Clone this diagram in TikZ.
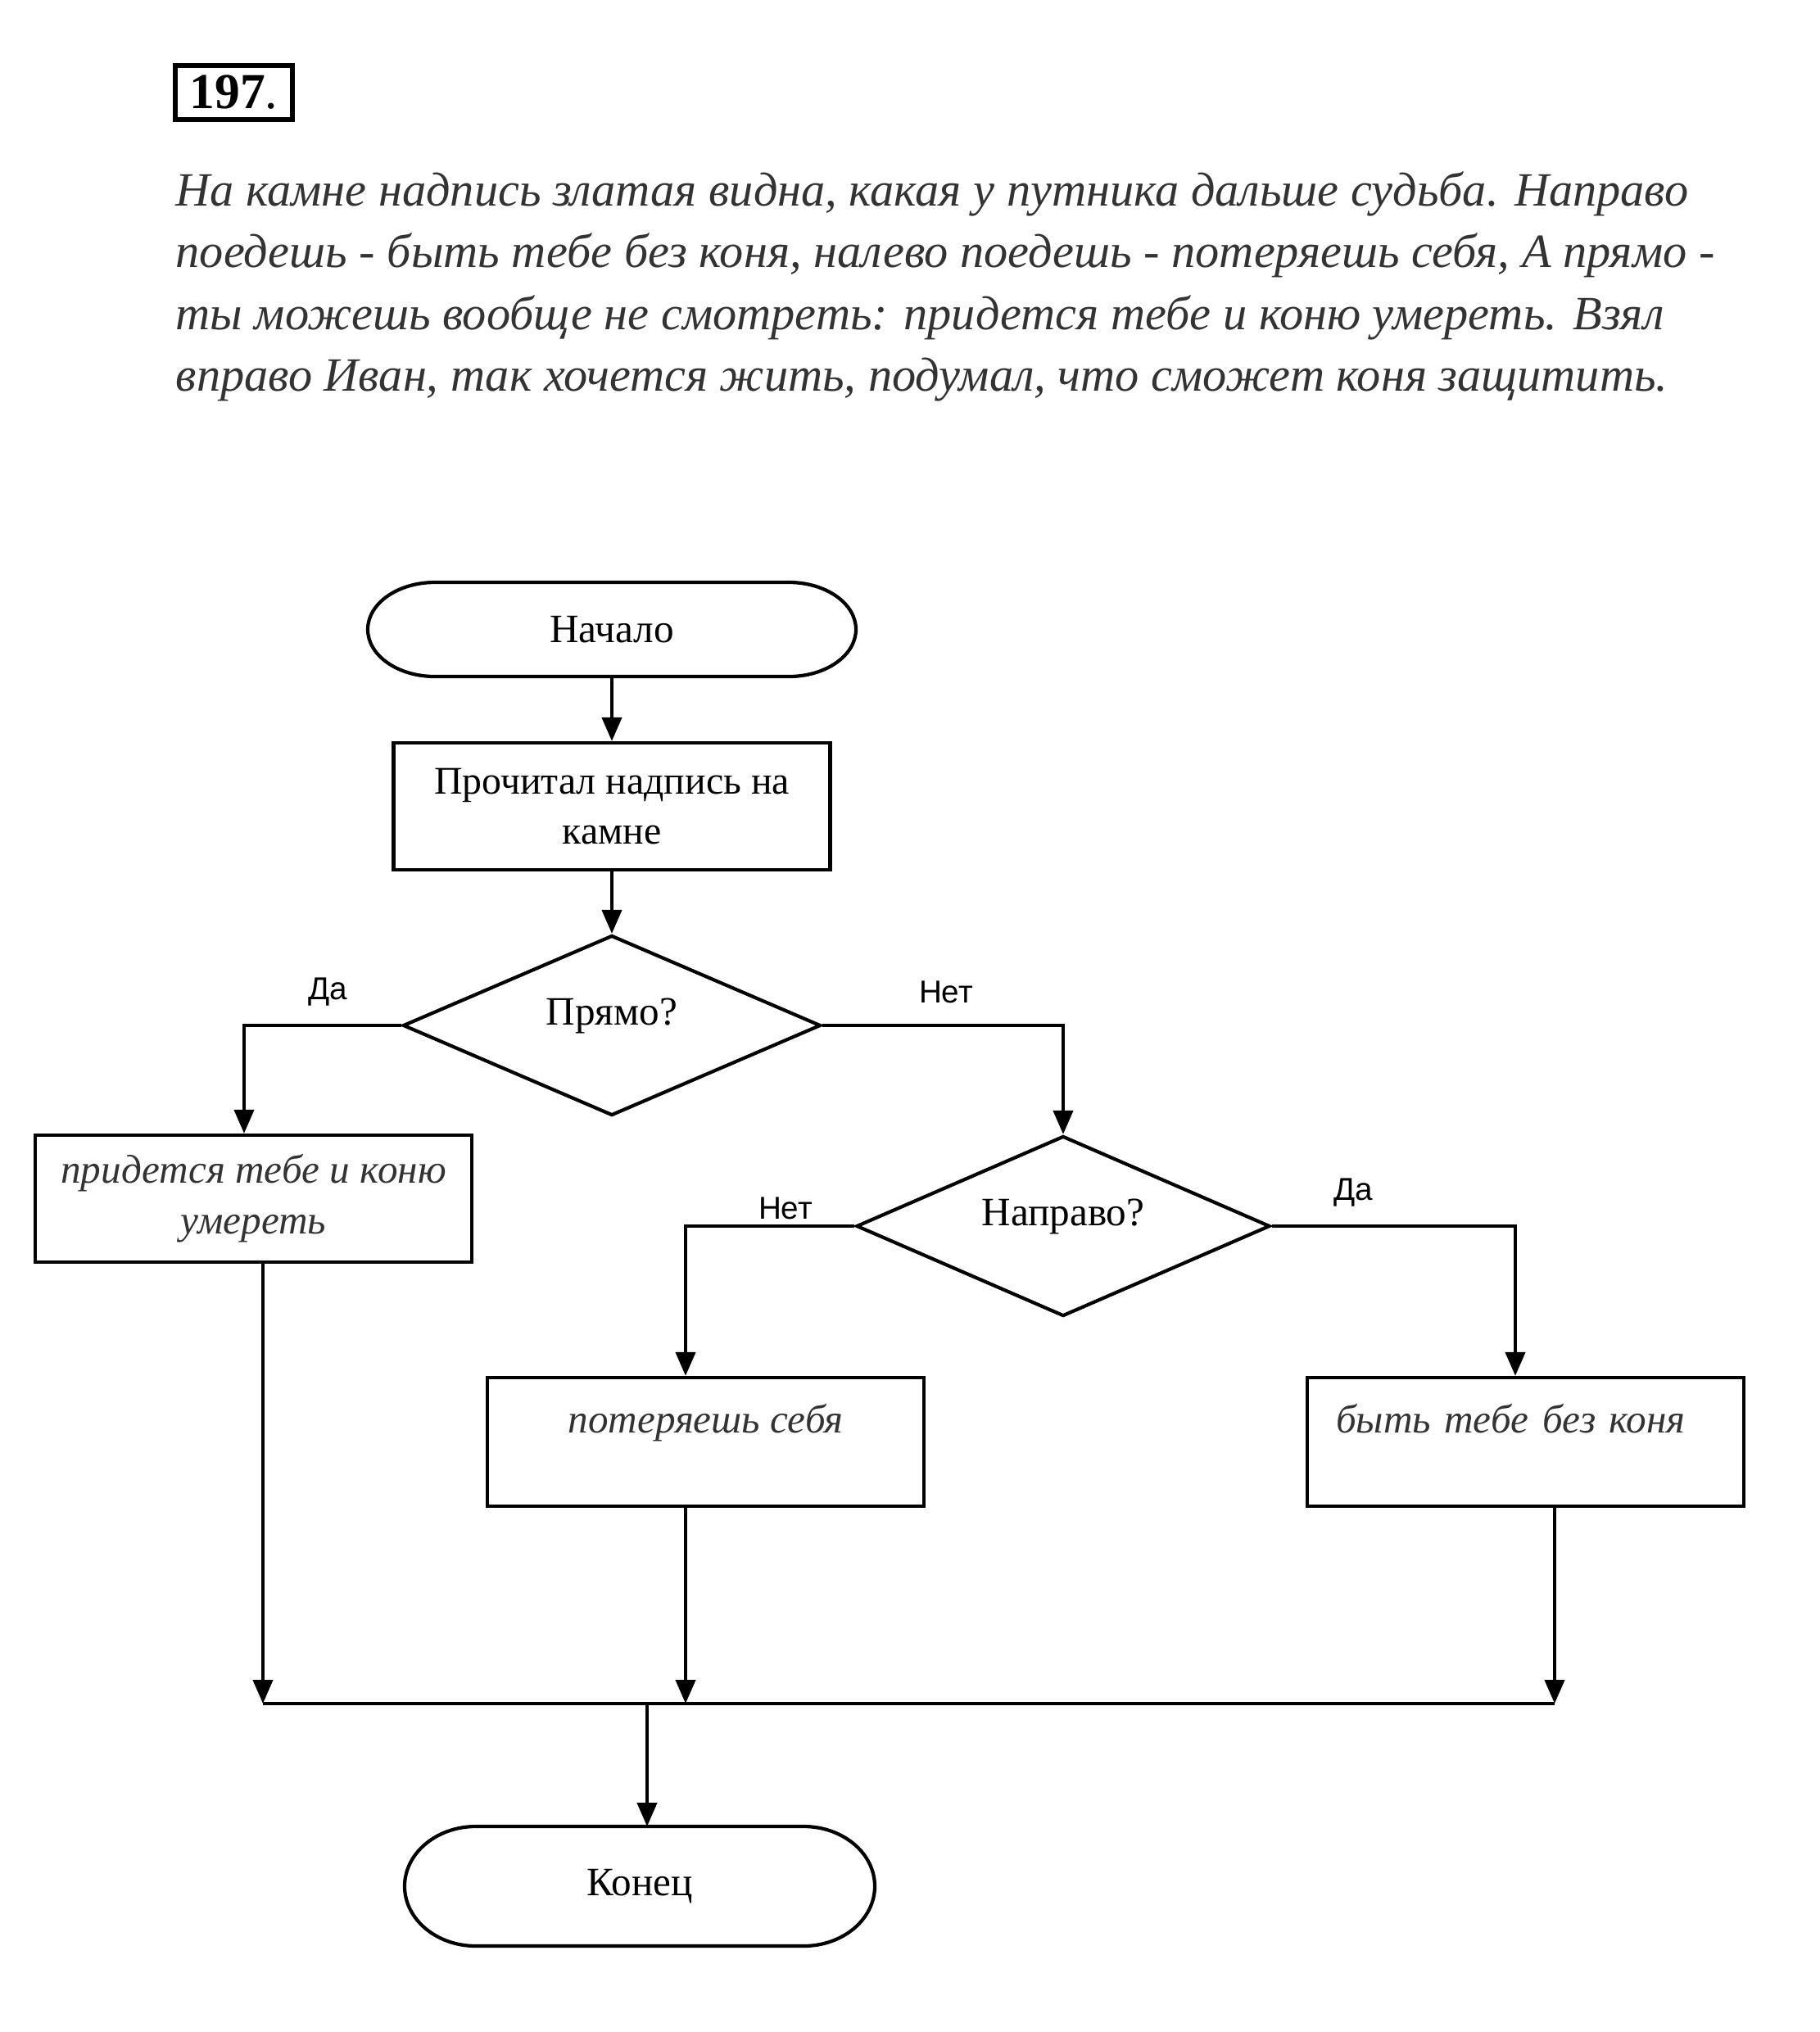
\documentclass[tikz,border=0pt]{standalone}
\usepackage{fontspec}
\setmainfont{Liberation Serif}
\newfontfamily\labelfont{Liberation Sans}
\usetikzlibrary{shapes.geometric, arrows.meta}

\begin{document}
\begin{tikzpicture}[>={Triangle[length=2.9mm,width=2.4mm]},
    line/.style={line width=1.2pt},
    arr/.style={line, ->},
    block/.style={draw, line, rectangle, minimum width=5.33cm, minimum height=1.55cm,
      inner sep=0pt, align=center, font=\fontsize{13.6}{17.6}\selectfont},
    storybox/.style={block, font=\fontsize{14}{17.6}\selectfont\itshape, text=black!80},
    terminal/.style={rectangle, outer sep=0pt, inner sep=0pt, font=\fontsize{14}{17.6}\selectfont},
    decision/.style={draw, line, diamond, aspect=2.3, inner sep=0pt,
      font=\fontsize{14}{17.6}\selectfont},
    answer/.style={font=\labelfont\fontsize{11}{13}\selectfont}]
  \useasboundingbox (0,0) rectangle (22.22,-24.81);

  % --- task number and text ---
  \node[draw, line width=1.6pt, minimum width=1.43cm, minimum height=0.66cm, inner sep=0pt,
    font=\fontsize{17.5}{20}\selectfont] (num) at (2.855,-1.13) {\textbf{197}.};
  \foreach \i/\txt in {1/{На камне надпись златая видна, какая у путника дальше судьба. Направо},
      2/{поедешь - быть тебе без коня, налево поедешь - потеряешь себя, А прямо -},
      3/{ты можешь вообще не смотреть: придется тебе и коню умереть. Взял},
      4/{вправо Иван, так хочется жить, подумал, что сможет коня защитить.}}
    \node[anchor=base west, inner sep=0pt, text=black!80,
      font=\fontsize{16.6}{20}\selectfont\itshape] (line\i) at (2.14,{-2.51-0.755*(\i-1)}) {\txt};

  % --- flowchart ---
  \node[terminal, minimum width=5.96cm, minimum height=1.15cm] (start) at (7.47,-7.685) {Начало};
  \node[block] (read) at (7.47,-9.845) {Прочитал надпись на\\камне};
  \node[decision, minimum width=5.1cm, minimum height=2.2cm] (q1) at (7.47,-12.52)
    {\raisebox{0.34cm}{Прямо?}};
  \node[storybox] (yes1) at (3.095,-14.635) {придется тебе и коню\\умереть};
  \node[decision, minimum width=5.05cm, minimum height=2.2cm] (q2) at (12.98,-14.97)
    {\raisebox{0.34cm}{Направо?}};
  \node[storybox, minimum height=1.57cm] (no2) at (8.615,-17.605) {\strut\\[-0.95em]потеряешь себя\\ \strut};
  \node[storybox, minimum height=1.57cm, align=left, text width=4.63cm, inner xsep=0.35cm]
    (yes2) at (18.625,-17.605) {\strut\\[-0.95em]быть тебе без коня\\ \strut};
  \node[terminal, minimum width=5.74cm, minimum height=1.46cm] (end) at (7.81,-23.03) {Конец};

  % terminal outlines with oval ends
  \foreach \n/\rx/\ry in {start/0.82/0.575, end/0.87/0.73}
    \draw[line] ([xshift=\rx cm]\n.north west) -- ([xshift=-\rx cm]\n.north east)
      arc[start angle=90, end angle=-90, x radius=\rx cm, y radius=\ry cm]
      -- ([xshift=\rx cm]\n.south west)
      arc[start angle=270, end angle=90, x radius=\rx cm, y radius=\ry cm];

  \node[answer] (a1) at (4.00,-12.11) {Да};
  \node[answer] (a2) at (11.55,-12.11) {Нет};
  \node[answer] (a3) at (9.59,-14.75) {Нет};
  \node[answer] (a4) at (16.52,-14.56) {Да};

  \coordinate (busL) at (3.21,-20.80);
  \coordinate (busR) at (18.98,-20.80);

  \draw[arr] (start.south) -- (read.north);
  \draw[arr] (read.south) -- (q1.north);
  \draw[arr] (q1.west) -| ([xshift=-1.15mm]yes1.north);
  \draw[arr] (q1.east) -| (q2.north);
  \draw[arr] (q2.west) -| ([xshift=-2.45mm]no2.north);
  \draw[arr] (q2.east) -| ([xshift=-1.25mm]yes2.north);
  \draw[arr] ([xshift=1.15mm]yes1.south) -- ([xshift=1.15mm]yes1.south |- busL);
  \draw[arr] ([xshift=-2.45mm]no2.south) -- ([xshift=-2.45mm]no2.south |- busL);
  \draw[arr] ([xshift=3.55mm]yes2.south) -- ([xshift=3.55mm]yes2.south |- busL);
  \draw[line] (busL) -- (busR);
  \draw[arr] ([xshift=0.9mm]end.north |- busL) -- ([xshift=0.9mm]end.north);
\end{tikzpicture}
\end{document}
